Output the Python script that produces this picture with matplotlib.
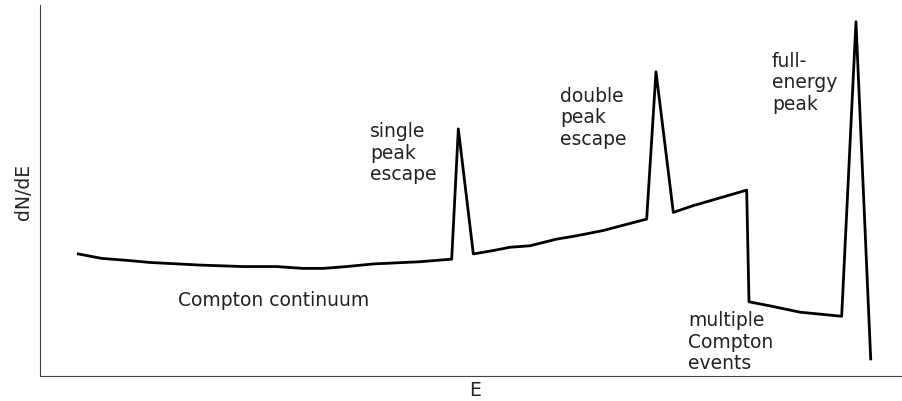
import matplotlib
matplotlib.use("Agg")
import matplotlib.pyplot as plt

energy = [4.44, 7.16, 10.44, 12.76, 18.56, 23.55, 27.46, 30.51, 32.83, 35.58, 38.63,
          41.38, 44.08, 47.76, 48.53, 50.27, 52.55, 54.52, 56.84, 59.94, 62.26, 65.31,
          70.38, 71.46, 73.47, 75.75, 81.98, 82.25, 84.69, 88.17, 93.00, 94.66, 96.37]
counts = [32.9, 31.7, 31.1, 30.6, 29.9, 29.5, 29.5, 29.0, 29.0, 29.5, 30.2,
          30.5, 30.8, 31.5, 66.6, 32.9, 33.8, 34.7, 35.1, 36.9, 37.8, 39.2,
          42.3, 82.0, 44.1, 45.9, 50.1, 20.0, 18.9, 17.2, 16.1, 95.5, 4.6]

labels = ["single\npeak\nescape", "double\npeak\nescape", "full-\nenergy\npeak",
          "multiple\nCompton\nevents", "Compton continuum"]
label_x = [38.3, 60.3, 84.9, 75.2, 16.0]
label_y = [68.6, 78.1, 87.6, 17.7, 20.5]
label_va = ["top", "top", "top", "top", "center"]

fig = plt.figure(figsize=(9.03, 4.02), dpi=100)
ax = fig.add_axes([40/903, 25/402, 862/903, 371/402])
ax.plot(energy, counts, color="black", lw=2)
ax.set_xlim(0, 100)
ax.set_ylim(0, 100)
ax.spines["top"].set_visible(False)
ax.spines["right"].set_visible(False)
for s in ("left", "bottom"):
    ax.spines[s].set_color("#444444")
ax.set_xticks([])
ax.set_yticks([])
ax.set_xlabel("E", fontsize=13.5, color="#222222")
ax.set_ylabel("dN/dE", fontsize=13.5, color="#222222")
ax.xaxis.set_label_coords(0.505, -0.012, transform=ax.transAxes)
ax.xaxis.label.set_va("top")
ax.yaxis.set_label_coords(-0.019, 0.5, transform=ax.transAxes)
ax.yaxis.label.set_va("center")
for t, x, y, va in zip(labels, label_x, label_y, label_va):
    ax.text(x, y, t, fontsize=13.5, ha="left", va=va, color="#222222", linespacing=1.15)

fig.savefig("out.png", dpi=100)
